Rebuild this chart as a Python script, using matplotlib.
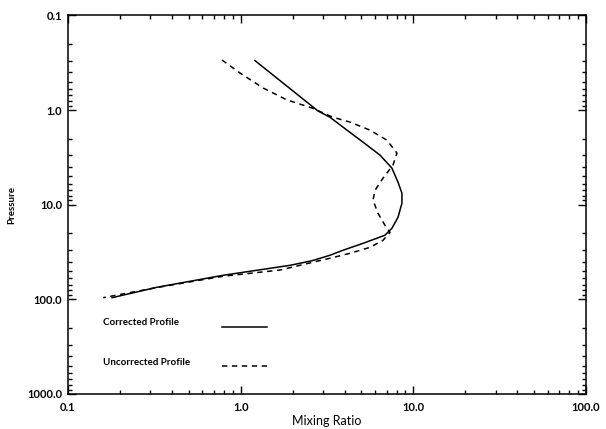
import matplotlib
matplotlib.use("Agg")
import matplotlib.pyplot as plt
from matplotlib.ticker import FuncFormatter, LogLocator, NullFormatter

corrected_ratio = [1.21, 2.8, 3.29, 4.13, 5.11, 6.41, 7.52, 8.15, 8.59, 8.59, 8.15, 7.52,
                   6.85, 5.11, 3.91, 3.29, 2.6, 1.93, 0.79, 0.327, 0.18]
corrected_pres = [0.30, 1.02, 1.19, 1.63, 2.18, 2.99, 4.11, 5.78, 7.55, 9.64, 13.6, 17.7,
                  21.0, 25.6, 30.3, 34.2, 39, 43.7, 55.7, 74.6, 96]

uncorrected_ratio = [0.78, 0.99, 1.35, 1.85, 2.59, 3.42, 4.30, 5.61, 7.03, 8.04, 7.62, 6.67,
                     6.0, 5.84, 6.24, 6.85, 7.33, 6.67, 5.61, 4.30, 3.29, 2.62, 1.69, 0.79,
                     0.327, 0.16]
uncorrected_pres = [0.296, 0.405, 0.585, 0.78, 0.95, 1.19, 1.34, 1.63, 2.08, 2.85, 3.82, 5.25,
                    7.03, 8.96, 12.3, 16.5, 19.6, 23.8, 28.2, 32.6, 36.8, 40.5, 49, 57,
                    75, 96]

labels = ["Corrected Profile", "Uncorrected Profile"]

plt.rcParams['font.family'] = ['Lato', 'DejaVu Sans']

fig = plt.figure(figsize=(6.06, 4.29), dpi=100)
ax = fig.add_axes([0.1122, 0.0816, 0.8548, 0.8824])

ax.plot(corrected_ratio, corrected_pres, color='black', lw=1.1)
ax.plot(uncorrected_ratio, uncorrected_pres, color='black', lw=1.1, dashes=(3.5, 3))

ax.set_xscale('log')
ax.set_yscale('log')
ax.set_xlim(0.1, 100)
ax.set_ylim(1000, 0.1)

fmt = FuncFormatter(lambda v, pos: "%.1f" % v)
for axis in (ax.xaxis, ax.yaxis):
    axis.set_major_locator(LogLocator(base=10))
    axis.set_minor_locator(LogLocator(base=10, subs=range(2, 10)))
    axis.set_major_formatter(fmt)
    axis.set_minor_formatter(NullFormatter())

ax.tick_params(which='both', direction='in', top=True, right=True, width=1.0)
ax.tick_params(which='major', length=6)
ax.tick_params(which='minor', length=3)
ax.tick_params(axis='x', pad=6)
ax.tick_params(axis='y', pad=4)
for lab in ax.get_xticklabels() + ax.get_yticklabels():
    lab.set_fontsize(8)
    lab.set_fontweight('bold')
for s in ax.spines.values():
    s.set_linewidth(1.1)

ax.set_xlabel("Mixing Ratio", fontsize=9, labelpad=1)
ax.set_ylabel("Pressure", fontsize=7, fontweight='bold', labelpad=8)

# hand-made key: text left-aligned, sample lines in a column
key_y = [0.19, 0.082]
line_y = [0.177, 0.074]
styles = [dict(), dict(dashes=(3.5, 3))]
for lbl, ty, ly, st in zip(labels, key_y, line_y, styles):
    ax.text(0.0676, ty, lbl, transform=ax.transAxes, fontsize=7, fontweight='bold',
            va='center', ha='left')
    ax.plot([0.297, 0.384], [ly, ly], transform=ax.transAxes, color='black', lw=1.1, **st)

fig.savefig("out.png", dpi=100)
